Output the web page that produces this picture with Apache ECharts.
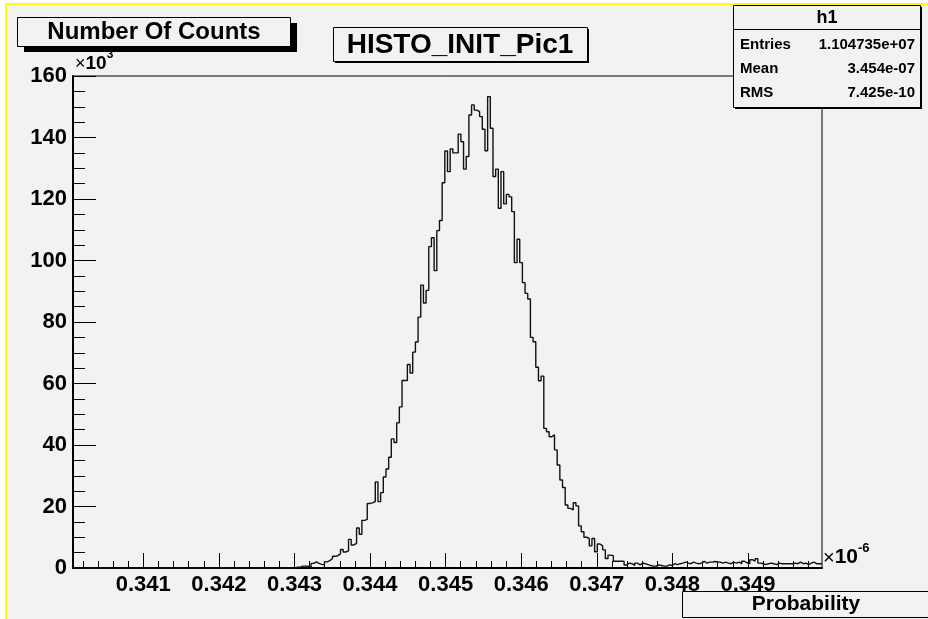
<!DOCTYPE html>
<html><head><meta charset="utf-8">
<script src="https://cdn.jsdelivr.net/npm/echarts@6/dist/echarts.min.js"></script>
<style>html,body{margin:0;padding:0;background:#fff}#c{width:928px;height:619px}</style>
</head><body><div id="c"></div>
<script>
// ---- data (counts in units of 10^3, x in units of 10^-6) ----
const xMin = 0.34007;
const xMax = 0.34998;
const nBins = 280;
const firstFilledBin = 82;
const counts = [
  0, 0.3, 0.3, 0.6, 0.6, 0.5, 0.2, 1.5, 2.0, 1.5,
  1.2, 1.0, 2.0, 2.4, 3.0, 3.8, 4.0, 4.6, 6.0, 5.2,
  5.6, 9.3, 7.5, 8.0, 13.0, 11.0, 15.5, 15.8, 21.0, 21.2,
  21.6, 28.0, 21.6, 24.5, 29.6, 32.2, 36.0, 42.0, 40.8, 47.2,
  52.4, 61.0, 61.0, 66.2, 63.4, 70.2, 73.5, 81.6, 92.0, 86.2,
  90.3, 104.5, 107.4, 96.7, 109.7, 113.0, 125.3, 135.6, 128.9, 136.3,
  135.0, 135.0, 141.1, 138.6, 129.7, 133.8, 147.3, 150.6, 148.9, 148.4,
  146.8, 142.7, 135.7, 153.3, 143.0, 127.3, 129.7, 117.0, 128.9, 118.4,
  121.5, 120.7, 115.9, 99.3, 106.9, 99.3, 92.8, 89.3, 87.5, 75.0,
  73.6, 65.3, 60.9, 62.4, 45.4, 44.3, 42.7, 43.3, 38.4, 33.5,
  28.6, 26.2, 20.5, 19.4, 18.9, 21.2, 20.2, 13.7, 11.8, 10.0,
  9.6, 7.2, 9.6, 5.3, 7.8, 7.2, 5.9, 3.1, 4.2, 4.0,
  2.2, 2.2, 2.2, 2.2,
  1.0, 1.6, 1.4, 0.8, 1.6, 1.0, 1.6, 1.4, 1.1, 0.8,
  0.6, 0.6, 1.0, 0.8, 0.6, 0.6, 1.0, 0.8, 1.4, 1.1,
  1.4, 1.6, 1.9, 1.6, 1.4, 1.9, 1.6, 1.4, 1.6, 2.2,
  1.6, 1.9, 1.9, 2.1, 1.9, 1.9, 1.6, 1.9, 1.6, 1.4,
  1.9, 1.6, 1.9, 1.4, 2.2, 1.7, 1.4, 2.7, 2.2, 3.0,
  1.6, 1.4, 1.1, 1.4, 1.6, 1.4, 1.1, 1.6, 1.4, 1.4,
  1.4, 1.4, 1.4, 1.6, 1.4, 1.9, 1.4, 1.6, 1.1, 1.6,
  1.9, 1.4, 1.4, 1.4
];
const xMajorTicks = [0.341, 0.342, 0.343, 0.344, 0.345, 0.346, 0.347, 0.348, 0.349];
const xMinorTicks = [
  0.3402, 0.3404, 0.3406, 0.3408, 0.3412, 0.3414, 0.3416, 0.3418,
  0.3422, 0.3424, 0.3426, 0.3428, 0.3432, 0.3434, 0.3436, 0.3438,
  0.3442, 0.3444, 0.3446, 0.3448, 0.3452, 0.3454, 0.3456, 0.3458,
  0.3462, 0.3464, 0.3466, 0.3468, 0.3472, 0.3474, 0.3476, 0.3478,
  0.3482, 0.3484, 0.3486, 0.3488, 0.3492, 0.3494, 0.3496, 0.3498
];
const yTicks = [0, 20, 40, 60, 80, 100, 120, 140, 160];
const titleText = 'HISTO_INIT_Pic1';
const yTitle = 'Number Of Counts';
const xTitle = 'Probability';
const statsName = 'h1';
const statsRows = [['Entries', '1.104735e+07'], ['Mean', '3.454e-07'], ['RMS', '7.425e-10']];

// ---- build step data (bin low edges) ----
const binW = (xMax - xMin) / nBins;
const pts = [];
for (let i = 0; i < nBins; i++) {
  const k = i - firstFilledBin;
  const v = (k >= 0 && k < counts.length) ? counts[k] : 0;
  pts.push([xMin + i * binW, v]);
}
pts.push([xMax, pts[pts.length - 1][1]]);

const FONT = '"Liberation Sans", Arial, Helvetica, sans-serif';
const BG = '#f2f2f2';
const L = 73, R = 822, T = 76, B = 568;

const chart = echarts.init(document.getElementById('c'), null, {renderer: 'canvas'});
const statsEls = [];
statsRows.forEach((r, i) => {
  statsEls.push({type: 'text', z: 101, style: {text: r[0], x: 740, y: 45 + i * 24, font: 'bold 15px ' + FONT, fill: '#000', align: 'left', verticalAlign: 'middle'}});
  statsEls.push({type: 'text', z: 101, style: {text: r[1], x: 915, y: 45 + i * 24, font: 'bold 15px ' + FONT, fill: '#000', align: 'right', verticalAlign: 'middle'}});
});

chart.setOption({
  animation: false,
  backgroundColor: BG,
  grid: {left: L, right: 928 - R, top: T, bottom: 619 - B, show: true, borderColor: '#000', borderWidth: 1, backgroundColor: 'transparent', containLabel: false, outerBoundsMode: 'none'},
  xAxis: [{
    type: 'value', min: xMin, max: xMax, position: 'bottom',
    axisLine: {show: true, onZero: false, lineStyle: {color: '#000', width: 2}},
    axisTick: {show: true, inside: true, length: 15, customValues: xMajorTicks, lineStyle: {color: '#000', width: 1}},
    axisLabel: {show: true, customValues: xMajorTicks, formatter: v => v.toFixed(3), margin: 6, color: '#000', fontSize: 22, fontWeight: 'bold', fontFamily: FONT},
    splitLine: {show: false},
    name: '{x|×}{b|10}{s|-6}', nameLocation: 'end', nameGap: 1,
    nameTextStyle: {align: 'left', verticalAlign: 'bottom', padding: [0, 0, 0, 0],
      rich: {
        x: {fontSize: 20, fontFamily: FONT, color: '#000', verticalAlign: 'bottom', lineHeight: 26},
        b: {fontSize: 21, fontWeight: 'bold', fontFamily: FONT, color: '#000', verticalAlign: 'bottom', lineHeight: 26},
        s: {fontSize: 13, fontWeight: 'bold', fontFamily: FONT, color: '#000', verticalAlign: 'top', lineHeight: 26}
      }}
  }, {
    type: 'value', min: xMin, max: xMax, position: 'bottom',
    axisLine: {show: false},
    axisTick: {show: true, inside: true, length: 7, customValues: xMinorTicks, lineStyle: {color: '#000', width: 1}},
    axisLabel: {show: false},
    splitLine: {show: false}
  }],
  yAxis: {
    type: 'value', min: 0, max: 160, interval: 20, position: 'left',
    axisLine: {show: true, onZero: false, lineStyle: {color: '#000', width: 2}},
    axisTick: {show: true, inside: true, length: 23, lineStyle: {color: '#000', width: 1}},
    minorTick: {show: true, splitNumber: 4, length: 12, lineStyle: {color: '#000', width: 1}},
    axisLabel: {show: true, margin: 6, color: '#000', fontSize: 22, fontWeight: 'bold', fontFamily: FONT},
    splitLine: {show: false}, minorSplitLine: {show: false},
    name: '{x|×}{b|10}{s|3}', nameLocation: 'end', nameGap: 3,
    nameTextStyle: {align: 'left', verticalAlign: 'bottom', padding: [0, 0, 0, 2],
      rich: {
        x: {fontSize: 18, fontFamily: FONT, color: '#000', verticalAlign: 'bottom', lineHeight: 24},
        b: {fontSize: 19, fontWeight: 'bold', fontFamily: FONT, color: '#000', verticalAlign: 'bottom', lineHeight: 24},
        s: {fontSize: 12, fontWeight: 'bold', fontFamily: FONT, color: '#000', verticalAlign: 'top', lineHeight: 24}
      }}
  },
  series: [{
    type: 'line', step: 'end', data: pts, xAxisIndex: 0, yAxisIndex: 0,
    showSymbol: false, symbol: 'none', clip: true,
    lineStyle: {color: '#111', width: 1.4}, z: 5
  }],
  graphic: [
    // canvas frame
    {type: 'rect', z: 90, shape: {x: 0, y: 0, width: 928, height: 3}, style: {fill: '#fff'}},
    {type: 'rect', z: 90, shape: {x: 0, y: 0, width: 5, height: 619}, style: {fill: '#fff'}},
    {type: 'rect', z: 91, shape: {x: 5, y: 3, width: 923, height: 2}, style: {fill: '#ffff00'}},
    {type: 'rect', z: 91, shape: {x: 5, y: 3, width: 2, height: 616}, style: {fill: '#ffff00'}},
    // y title box
    {type: 'rect', z: 100, shape: {x: 24, y: 23, width: 273, height: 29}, style: {fill: '#000'}},
    {type: 'rect', z: 101, shape: {x: 17.5, y: 17.5, width: 273, height: 29}, style: {fill: BG, stroke: '#000', lineWidth: 1}},
    {type: 'text', z: 102, style: {text: yTitle, x: 154, y: 32, font: 'bold 24px ' + FONT, fill: '#000', align: 'center', verticalAlign: 'middle'}},
    // title box
    {type: 'rect', z: 100, shape: {x: 335, y: 29, width: 254, height: 34}, style: {fill: '#000'}},
    {type: 'rect', z: 101, shape: {x: 333.5, y: 27.5, width: 254, height: 34}, style: {fill: BG, stroke: '#000', lineWidth: 1}},
    {type: 'text', z: 102, style: {text: titleText, x: 460, y: 45, font: 'bold 28px ' + FONT, fill: '#000', align: 'center', verticalAlign: 'middle'}},
    // stats box
    {type: 'rect', z: 99, shape: {x: 735, y: 7, width: 187, height: 102}, style: {fill: '#000'}},
    {type: 'rect', z: 100, shape: {x: 733.5, y: 5.5, width: 187, height: 102}, style: {fill: BG, stroke: '#000', lineWidth: 1}},
    {type: 'line', z: 101, shape: {x1: 733.5, y1: 29.5, x2: 920.5, y2: 29.5}, style: {stroke: '#000', lineWidth: 1}},
    {type: 'text', z: 101, style: {text: statsName, x: 827, y: 18, font: 'bold 18px ' + FONT, fill: '#000', align: 'center', verticalAlign: 'middle'}},
    ...statsEls,
    // x title box
    {type: 'rect', z: 100, shape: {x: 682.5, y: 591.5, width: 260, height: 26}, style: {fill: BG, stroke: '#000', lineWidth: 1}},
    {type: 'text', z: 101, style: {text: xTitle, x: 806, y: 604, font: 'bold 21px ' + FONT, fill: '#000', align: 'center', verticalAlign: 'middle'}}
  ]
});
</script>
</body></html>
